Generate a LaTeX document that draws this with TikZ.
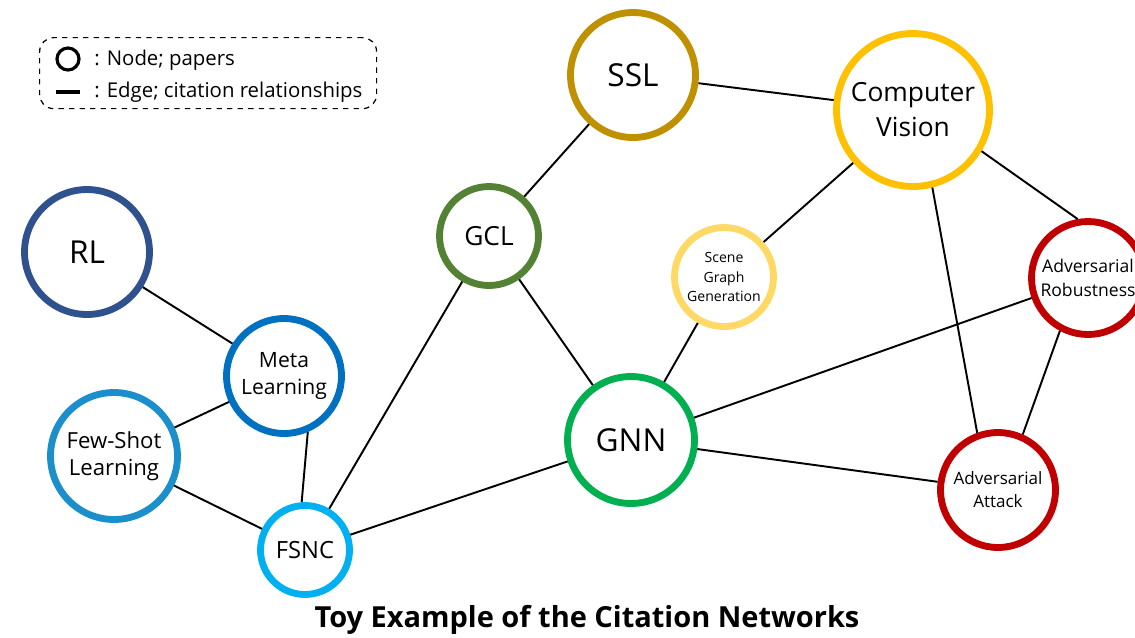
\documentclass[tikz,border=0pt]{standalone}
\usepackage{fontspec}
\setmainfont{Open Sans}
\definecolor{rlc}{RGB}{47,82,143}
\definecolor{metac}{RGB}{0,112,192}
\definecolor{fslc}{RGB}{27,143,203}
\definecolor{fsncc}{RGB}{0,176,240}
\definecolor{gclc}{RGB}{84,130,53}
\definecolor{sslc}{RGB}{191,144,0}
\definecolor{cvc}{RGB}{255,192,0}
\definecolor{sggc}{RGB}{255,217,102}
\definecolor{gnnc}{RGB}{0,176,80}
\definecolor{advc}{RGB}{192,0,0}
\begin{document}
\begin{tikzpicture}[x=0.02cm, y=-0.02cm,
  paper/.style={circle, draw=#1, line width=3.9pt, fill=white, inner sep=0pt, align=center},
  cite/.style={line width=1.1pt, black},
  lbl/.style={font=\fontsize{11.6}{14}\selectfont, anchor=west, inner sep=0pt}]
\useasboundingbox (0,0) rectangle (1135,637);

% legend
\node[draw, dashed, rounded corners=8pt, line width=0.7pt, minimum width=337*0.02cm, minimum height=71*0.02cm, anchor=north west] (legend) at (39,37) {};
\node[circle, draw, line width=1.8pt, minimum size=0.44cm, inner sep=0pt] (lc) at (68,59) {};
\coordinate (la) at (56,92);
\coordinate (lb) at (80,92);
\draw[line width=1.8pt] (la) -- (lb);
\node[lbl] (ln) at (94,60) {: Node; papers};
\node[lbl] (le) at (94,92) {: Edge; citation relationships};

% papers
\node[paper=rlc, minimum size=2.5cm, font=\fontsize{18}{20}\selectfont] (rl) at (87,252) {RL};
\node[paper=metac, minimum size=2.3cm, font=\fontsize{12}{15}\selectfont] (meta) at (284,376) {Meta\\Learning};
\node[paper=fslc, minimum size=2.54cm, font=\fontsize{12.6}{15.5}\selectfont] (fsl) at (114,456) {Few-Shot\\Learning};
\node[paper=fsncc, minimum size=1.78cm, font=\fontsize{13.5}{15}\selectfont] (fsnc) at (305,550) {FSNC};
\node[paper=gclc, minimum size=1.98cm, font=\fontsize{15}{17}\selectfont] (gcl) at (489,236) {GCL};
\node[paper=sslc, minimum size=2.5cm, font=\fontsize{18}{20}\selectfont] (ssl) at (633,75) {SSL};
\node[paper=cvc, minimum size=3.06cm, font=\fontsize{15}{20}\selectfont] (cv) at (913,110) {Computer\\Vision};
\node[paper=sggc, minimum size=1.98cm, font=\fontsize{8}{11}\selectfont] (sgg) at (724,277) {Scene\\Graph\\Generation};
\node[paper=gnnc, minimum size=2.54cm, font=\fontsize{18}{20}\selectfont] (gnn) at (631,440) {GNN};
\node[paper=advc, minimum size=2.26cm, font=\fontsize{10}{13.5}\selectfont] (ar) at (1088,278) {Adversarial\\Robustness};
\node[paper=advc, minimum size=2.3cm, font=\fontsize{9.7}{13}\selectfont] (aa) at (998,490) {Adversarial\\Attack};

% citation relationships
\draw[cite] (rl) -- (meta);
\draw[cite] (meta) -- (fsl);
\draw[cite] (meta.-67) -- (fsnc.94);
\draw[cite] (fsl) -- (fsnc);
\draw[cite] (fsnc) -- (gcl);
\draw[cite] (fsnc) -- (gnn);
\draw[cite] (gcl) -- (ssl);
\draw[cite] (gcl) -- (gnn);
\draw[cite] (ssl) -- (cv);
\draw[cite] (cv) -- (sgg);
\draw[cite] (cv.-31) -- (ar.100);
\draw[cite] (cv.-76) -- (aa.110);
\draw[cite] (sgg) -- (gnn);
\draw[cite] (gnn) -- (ar);
\draw[cite] (gnn) -- (aa);
\draw[cite] (ar.-118) -- (aa.66);

% caption
\node[font=\bfseries\fontsize{16.5}{20}\selectfont] (title) at (587,620) {Toy Example of the Citation Networks};
\end{tikzpicture}
\end{document}
